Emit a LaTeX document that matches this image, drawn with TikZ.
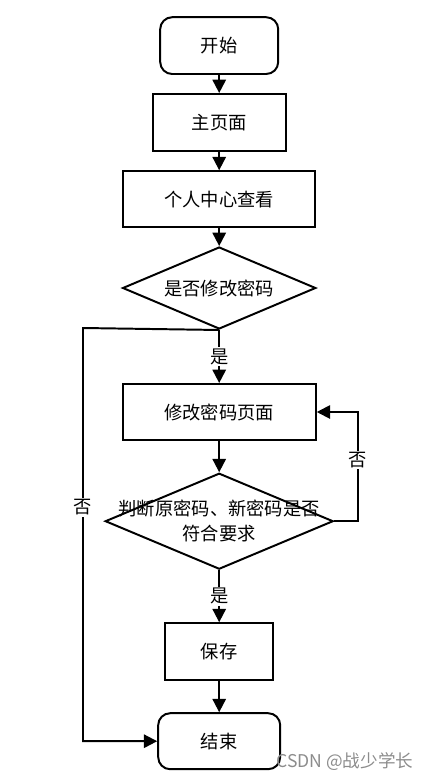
\documentclass[tikz,border=0pt]{standalone}
\usepackage{fontspec}
\setmainfont{Noto Sans CJK SC}
\usepackage{tikz}
\usetikzlibrary{arrows.meta, shapes.geometric}

\begin{document}
\begin{tikzpicture}[>={Triangle[length=9.5pt,width=9.5pt]},
  every node/.style={font=\fontsize{13}{18}\selectfont},
  box/.style={draw, line width=1.4pt, minimum height=1.42cm, inner sep=0pt},
  term/.style={box, rounded corners=0.3cm},
  decide/.style={draw, diamond, line width=1.4pt, inner sep=0pt},
  flow/.style={->, line width=1.4pt},
  tag/.style={fill=white, inner sep=1pt}]
  \useasboundingbox (0,0) rectangle (10.675,-19.5);
  % main column
  \node[term, minimum width=2.95cm] (start) at (5.48,-1.14) {开始};
  \node[box, minimum width=3.33cm] (home) at (5.48,-3.06) {主页面};
  \node[box, minimum width=4.8cm, minimum height=1.4cm] (center) at (5.48,-4.98) {个人中心查看};
  \node[decide, minimum width=4.83cm, minimum height=2.05cm, label=center:{是否修改密码}] (ask) at (5.48,-7.2) {};
  \node[box, minimum width=4.83cm, minimum height=1.4cm] (modify) at (5.48,-10.3) {修改密码页面};
  \node[decide, minimum width=5.7cm, minimum height=2.4cm, label={[align=center]center:判断原密码、新密码是否\\符合要求}] (check) at (5.48,-13.03) {};
  \node[box, minimum width=2.7cm] (save) at (5.48,-16.29) {保存};
  \node[term, minimum width=3.05cm, minimum height=1.4cm] (end) at (5.48,-18.53) {结束};
  % connectors
  \draw[flow] (start) -- (home);
  \draw[flow] (home) -- (center);
  \draw[flow] (center) -- (ask);
  \draw[flow] (ask) -- node[tag] {是} (modify);
  \draw[flow] (modify) -- (check);
  \draw[flow] (check) -- node[tag] {是} (save);
  \draw[flow] (save) -- (end);
  % back loops
  \coordinate (noL) at (2.075,-8.2);
  \coordinate (noR) at (8.95,-13.03);
  \draw[flow] (ask.south) -- (noL) |- node[tag, pos=0.217] {否} (end.west);
  \draw[flow] (check.east) -- (noR) |- node[tag, pos=0.28] {否} (modify.east);
  \node[text=black!45, font=\fontsize{12.5}{14}\selectfont] (mark) at (8.62,-19.05) {CSDN @战少学长};
\end{tikzpicture}
\end{document}
